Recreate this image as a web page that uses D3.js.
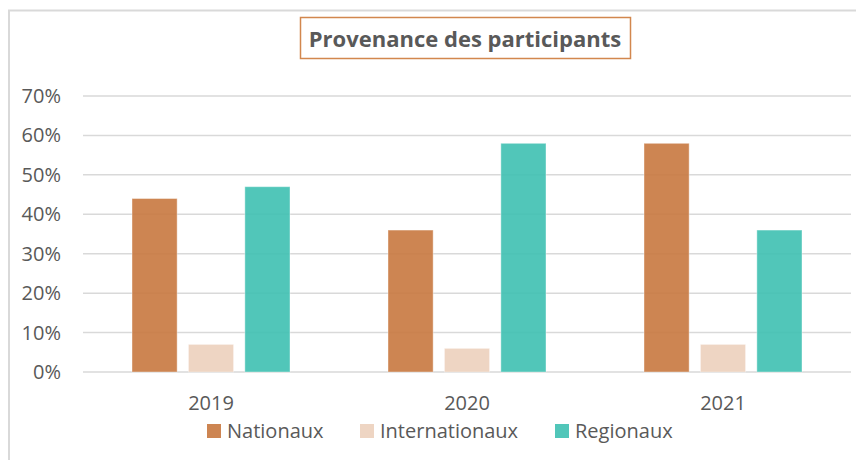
<!DOCTYPE html>
<html>
<head>
<meta charset="utf-8">
<script src="https://cdn.jsdelivr.net/npm/d3@7"></script>
<style>
  body { margin: 0; background: #fff; }
  text { font-family: "Open Sans", "Noto Sans", sans-serif; }
</style>
</head>
<body>
<script>
var years = ["2019", "2020", "2021"];
var seriesNames = ["Nationaux", "Internationaux", "Regionaux"];
var nationaux = [0.44, 0.36, 0.58];
var internationaux = [0.07, 0.06, 0.07];
var regionaux = [0.47, 0.58, 0.36];
var yTicks = [0, 0.1, 0.2, 0.3, 0.4, 0.5, 0.6, 0.7];
var colors = ["#c8783f", "#ecd0bc", "#3ec0b1"];

var width = 856;
var height = 460;
var margin = { top: 96, right: 5, bottom: 88, left: 83 };

var svg = d3.select("body")
  .append("svg")
  .attr("width", width)
  .attr("height", height);

// outer frame
svg.append("path")
  .attr("d", "M9," + height + "V10.5H" + width)
  .attr("fill", "none")
  .attr("stroke", "#d9d9d9")
  .attr("stroke-width", 2);

var xScale = d3.scaleBand()
  .domain(years)
  .range([margin.left, width - margin.right]);

var innerScale = d3.scaleBand()
  .domain(seriesNames)
  .range([0, 158])
  .paddingInner(0.2);

var yScale = d3.scaleLinear()
  .domain([0, 0.7])
  .range([height - margin.bottom, margin.top]);

// gridlines
svg.append("g")
  .selectAll("line")
  .data(yTicks)
  .enter()
  .append("line")
  .attr("x1", margin.left)
  .attr("x2", width - margin.right)
  .attr("y1", function(d) { return yScale(d); })
  .attr("y2", function(d) { return yScale(d); })
  .attr("stroke", "#d9d9d9")
  .attr("stroke-width", 1.5);

// y labels
svg.append("g")
  .selectAll("text")
  .data(yTicks)
  .enter()
  .append("text")
  .attr("x", 61)
  .attr("y", function(d) { return yScale(d); })
  .attr("dy", "0.35em")
  .attr("text-anchor", "end")
  .attr("font-size", "20px")
  .attr("fill", "#595959")
  .text(d3.format(".0%"));

var rows = [];
years.forEach(function(y, i) {
  rows.push({ year: y, s: seriesNames[0], v: nationaux[i], c: colors[0] });
  rows.push({ year: y, s: seriesNames[1], v: internationaux[i], c: colors[1] });
  rows.push({ year: y, s: seriesNames[2], v: regionaux[i], c: colors[2] });
});

var groupOffset = (xScale.bandwidth() - 158) / 2;

svg.append("g")
  .selectAll("rect")
  .data(rows)
  .enter()
  .append("rect")
  .attr("x", function(d) { return xScale(d.year) + groupOffset + innerScale(d.s); })
  .attr("y", function(d) { return yScale(d.v); })
  .attr("width", innerScale.bandwidth())
  .attr("height", function(d) { return yScale(0) - yScale(d.v); })
  .attr("fill", function(d) { return d.c; })
  .attr("fill-opacity", 0.9)
  .attr("stroke", "#fff")
  .attr("stroke-opacity", 0.4)
  .attr("stroke-width", 1);

// x labels
svg.append("g")
  .selectAll("text")
  .data(years)
  .enter()
  .append("text")
  .attr("x", function(d) { return xScale(d) + xScale.bandwidth() / 2; })
  .attr("y", 403)
  .attr("dy", "0.35em")
  .attr("text-anchor", "middle")
  .attr("font-size", "20px")
  .attr("fill", "#595959")
  .text(function(d) { return d; });

// title
svg.append("rect")
  .attr("x", 300.5)
  .attr("y", 17.5)
  .attr("width", 330)
  .attr("height", 41)
  .attr("fill", "#fff")
  .attr("stroke", "#d2874e")
  .attr("stroke-width", 1.5);

svg.append("text")
  .attr("x", 465)
  .attr("y", 39)
  .attr("dy", "0.35em")
  .attr("text-anchor", "middle")
  .attr("font-size", "22px")
  .attr("font-weight", "bold")
  .attr("fill", "#595959")
  .text("Provenance des participants");

// legend
var legendX = [207, 360, 555];
var legend = svg.append("g")
  .selectAll("g")
  .data(seriesNames)
  .enter()
  .append("g")
  .attr("transform", function(d, i) { return "translate(" + legendX[i] + ",424)"; });

legend.append("rect")
  .attr("width", 14)
  .attr("height", 14)
  .attr("fill", function(d, i) { return colors[i]; })
  .attr("fill-opacity", 0.9);

legend.append("text")
  .attr("x", 20)
  .attr("y", 7)
  .attr("dy", "0.35em")
  .attr("font-size", "20px")
  .attr("fill", "#595959")
  .text(function(d) { return d; });
</script>
</body>
</html>
